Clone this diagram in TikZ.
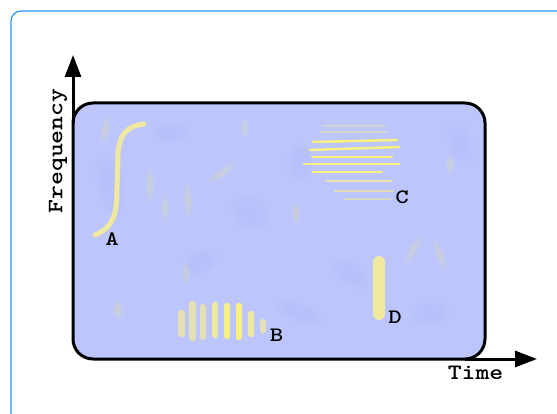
\documentclass[tikz,border=0pt]{standalone}
\usepackage{fontspec}
\newfontfamily\labelfont[Extension=.otf]{lmmonolt10-bold}
\usetikzlibrary{arrows.meta,positioning}
\newlength{\px}
\definecolor{framecol}{RGB}{40,150,245}
\definecolor{boxfill}{RGB}{188,198,252}
\definecolor{paleyel}{RGB}{240,232,160}
\definecolor{brightyel}{RGB}{250,240,130}
\definecolor{greyyel}{RGB}{228,224,180}
\definecolor{speckyel}{RGB}{232,226,165}
\definecolor{speckblue}{RGB}{160,170,250}

\begin{document}
\begin{tikzpicture}
    [   > = {Triangle[length=22pt,width=16pt]},
        axis/.style = {line width=3\px},
        axislabel/.style = {font=\labelfont\fontsize{22}{22}\selectfont, inner sep=0pt, xscale=1.2},
        ptlabel/.style = {font=\labelfont\fontsize{20.5}{20.5}\selectfont, inner sep=0pt, xscale=1.25}
    ]
    \setlength{\px}{1pt}
    \useasboundingbox (0\px,0\px) rectangle (557\px,413\px);
    \clip (0\px,0\px) rectangle (557\px,413\px);
    % Frame
    \draw[framecol,line width=1.2\px,rounded corners=10\px] (11\px,-30\px) rectangle (620\px,402\px);
    % Spectrogram
    \fill[boxfill,rounded corners=20\px] (73\px,54\px) rectangle (485\px,310\px);
    % Specks (soft)
    \foreach \sx/\sy/\ra/\rb/\rot in {110/230/14/30/10, 200/150/20/12/30, 300/100/25/10/-20,
                                      430/100/20/12/0, 250/200/16/22/60, 350/140/22/12/-30,
                                      170/280/18/10/0, 460/270/12/24/20, 300/250/14/20/0}
        \foreach \k in {1,0.75,0.5}
            \fill[speckblue,opacity=0.07,rotate around={\rot:(\sx\px,\sy\px)}]
                (\sx\px,\sy\px) ellipse [x radius=\k*\ra*\px, y radius=\k*\rb*\px];
    \foreach \sx/\sy/\ra/\rb/\rot in {105/283/3/10/-10, 150/228/3/13/0, 165/205/3/10/0,
                                      188/213/3/12/5, 222/240/3/12/-55, 245/285/3/7/0,
                                      118/103/4/7/0, 413/163/3/12/-30, 440/158/3/12/20,
                                      450/248/3/7/0, 296/200/3/8/0, 186/140/3/8/0}
        \foreach \k in {1.4,1,0.6}
            \fill[speckyel,opacity=0.12,rotate around={\rot:(\sx\px,\sy\px)}]
                (\sx\px,\sy\px) ellipse [x radius=\k*\ra*\px, y radius=\k*\rb*\px];
    \draw[line width=3\px,rounded corners=20\px] (73\px,54\px) rectangle (485\px,310\px);
    % A
    \draw[paleyel,line width=5\px,line cap=round]
        (95\px,178\px) .. controls (114\px,186\px) and (117\px,200\px) .. (117\px,225\px)
        -- (118\px,258\px) .. controls (119\px,280\px) and (128\px,287\px) .. (144\px,289\px);
    % B
    \foreach \bx/\ba/\bb/\bcol in {181.5/79/100/greyyel, 192.5/75/109/greyyel, 203/76/106/greyyel,
                                   215/78/108/paleyel, 227/77/107/brightyel, 239/76/107/brightyel,
                                   251/79/99/paleyel, 263/83/91/greyyel}
        \draw[\bcol,line width=6.5\px,line cap=round] (\bx\px,\ba\px) -- (\bx\px,\bb\px);
    % C
    \foreach \xa/\xb/\ya/\yb/\ccol/\op in {323/385/287/287/greyyel/0.5, 321/387/281/281/greyyel/0.6,
                                          313/397/271/273/brightyel/1, 310/399/263/266/brightyel/1,
                                          312/392/256/256/brightyel/1, 304/399/249/249/brightyel/1,
                                          313/382/241/241/brightyel/1, 327/392/232/232/paleyel/0.9,
                                          335/393/222/222/greyyel/0.9, 344/390/214/214/greyyel/0.7}
        \draw[\ccol,opacity=\op,line width=2.5\px,line cap=round] (\xa\px,\ya\px) -- (\xb\px,\yb\px);
    % D
    \draw[paleyel,line width=12\px,line cap=round] (379\px,99\px) -- (379\px,151\px);
    % Labels
    \node[ptlabel] (labA) at (112\px,174\px) {A};
    \node[ptlabel] (labB) at (276.5\px,78\px) {B};
    \node[ptlabel] (labC) at (402\px,216\px) {C};
    \node[ptlabel] (labD) at (395\px,95.5\px) {D};
    % Axes
    \coordinate (freqbase) at (73\px,290\px);
    \coordinate (freqtip) at (73\px,358\px);
    \coordinate (timebase) at (465\px,54\px);
    \coordinate (timetip) at (537\px,54\px);
    \draw[axis,->] (freqbase) -- (freqtip);
    \draw[axis,->] (timebase) -- (timetip);
    \node[rotate=90,axislabel] (freq) at (58\px,262\px) {Frequency};
    \node[axislabel] (time) at (475.5\px,40\px) {Time};
\end{tikzpicture}
\end{document}
